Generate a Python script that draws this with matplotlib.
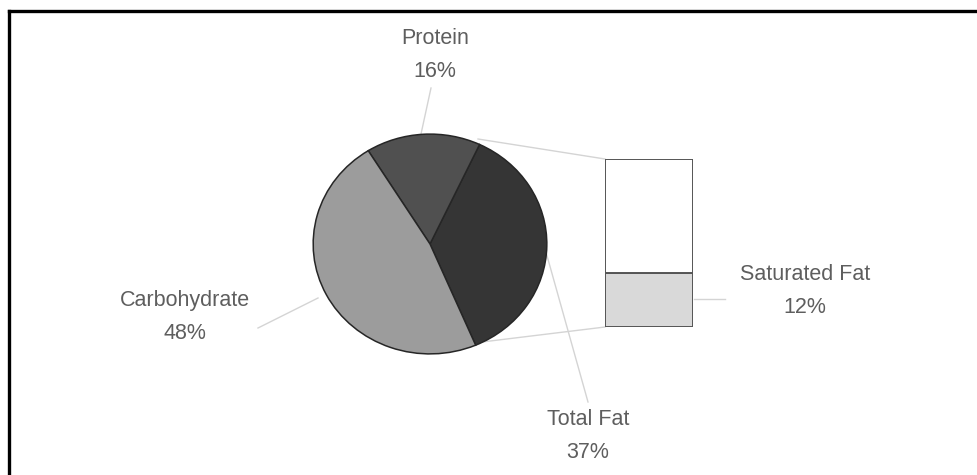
import matplotlib
matplotlib.use("Agg")
import matplotlib.pyplot as plt
from matplotlib.lines import Line2D

# Share of energy by nutrient (%), and the fat breakdown
pie_labels = ["Total Fat", "Protein", "Carbohydrate"]
pie_values = [37, 16, 48]
pie_colors = ["#353535", "#505050", "#9c9c9c"]

bar_labels = ["Saturated Fat", "Other Fat"]
bar_values = [12, 25]
bar_colors = ["#d9d9d9", "#ffffff"]

W, H = 977, 475
fig = plt.figure(figsize=(W / 100, H / 100), dpi=100)
fig.patch.set_facecolor("white")

def px_box(x0, y0, x1, y1):
    # pixel box (top-left origin) -> figure fraction rect
    return [x0 / W, 1 - y1 / H, (x1 - x0) / W, (y1 - y0) / H]

# overlay in pixel coordinates for leader lines and labels
ax = fig.add_axes([0, 0, 1, 1])
ax.set_xlim(0, W)
ax.set_ylim(H, 0)
ax.axis("off")

# outer frame (top and left edges)
fig.add_artist(Line2D([9 / W, 9 / W], [0, 1 - 11 / H], color="black", lw=2.4,
                      transform=fig.transFigure, solid_capstyle="projecting"))
fig.add_artist(Line2D([9 / W, 1], [1 - 11 / H, 1 - 11 / H], color="black", lw=2.4,
                      transform=fig.transFigure, solid_capstyle="projecting"))

line_kw = dict(color="#d4d4d4", lw=1.0, zorder=1)
# connectors from the fat slice to the bar
ax.plot([478, 605], [139, 159], **line_kw)
ax.plot([482, 605], [342, 327], **line_kw)
# label leader lines
ax.plot([431, 421], [88, 134], **line_kw)
ax.plot([258, 318], [328, 298], **line_kw)
ax.plot([544, 588], [245, 402], **line_kw)
ax.plot([694, 725], [299, 299], **line_kw)

txt_kw = dict(ha="center", va="center", fontsize=15.5, color="#5e5e5e",
              family="Liberation Sans", linespacing=1.8)
label_pos = {"Protein": (435, 55), "Carbohydrate": (185, 317),
             "Total Fat": (588, 436), "Saturated Fat": (805, 291)}
for name, val in zip(pie_labels, pie_values):
    ax.text(*label_pos[name], f"{name}\n{val}%", **txt_kw)
ax.text(*label_pos[bar_labels[0]], f"{bar_labels[0]}\n{bar_values[0]}%", **txt_kw)

# pie
ax_pie = fig.add_axes(px_box(312, 133, 548, 355))
ax_pie.pie(pie_values, colors=pie_colors, startangle=-67, radius=1,
           wedgeprops=dict(edgecolor="#262626", linewidth=1.1))
ax_pie.set_aspect("auto")
ax_pie.set_xlim(-1.01, 1.01)
ax_pie.set_ylim(-1.01, 1.01)
ax_pie.patch.set_alpha(0)
ax_pie.axis("off")

# stacked bar of the fat share
ax_bar = fig.add_axes(px_box(605, 159, 693, 327))
bottom = 0
for v, c in zip(bar_values, bar_colors):
    ax_bar.bar(0, v, width=1, bottom=bottom, color=c, edgecolor="#555555", linewidth=1.4)
    bottom += v
ax_bar.set_xlim(-0.5, 0.5)
ax_bar.set_ylim(0, sum(bar_values))
ax_bar.patch.set_alpha(0)
ax_bar.axis("off")

fig.savefig("out.png", dpi=100)
